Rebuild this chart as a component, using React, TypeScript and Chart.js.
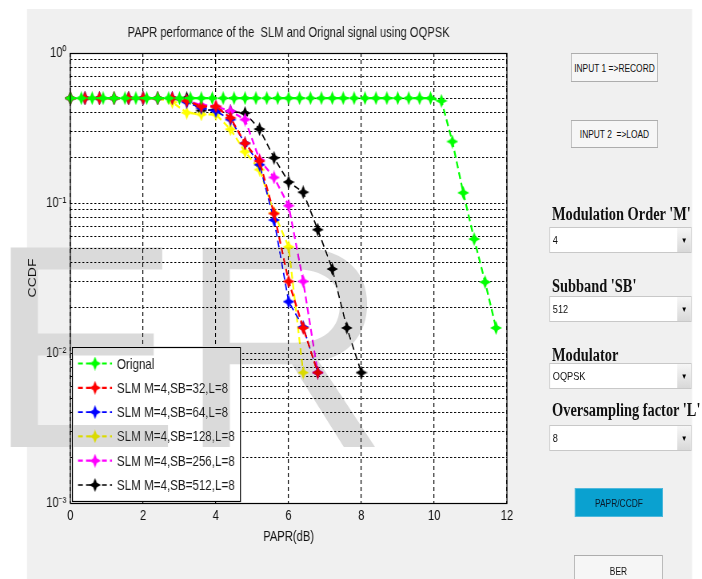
import React, { useEffect, useRef } from "react";
import { Chart, registerables } from "chart.js";

Chart.register(...registerables);

// Canvas is drawn wider and squeezed horizontally (the reference is a horizontally squeezed screenshot)
const FULL_W = 878;
const H = 579;
const S = 702 / FULL_W;
const X = (d: number) => d / S;
const FONT = '"Liberation Sans", Arial, Helvetica, sans-serif';
const SERIF = '"Liberation Serif", "Times New Roman", serif';

const TITLE = "PAPR performance of the  SLM and Orignal signal using OQPSK";
const X_TITLE = "PAPR(dB)";
const Y_TITLE = "CCDF";
const X_TICKS = [0, 2, 4, 6, 8, 10, 12];
const Y_DECADES = [0.001, 0.01, 0.1, 1];
const Y_DECADE_LABELS = ["10⁻³", "10⁻²", "10⁻¹", "10⁰"];
const Y_MINOR_STEPS = [2, 3, 4, 5, 6, 7, 8, 9];

const ORIG_X = [
  0, 0.3, 0.6, 0.9, 1.2, 1.5, 1.8, 2.1, 2.4, 2.7, 3.0, 3.3, 3.6, 3.9, 4.2, 4.5, 4.8, 5.1, 5.4, 5.7,
  6.0, 6.3, 6.6, 6.9, 7.2, 7.5, 7.8, 8.1, 8.4, 8.7, 9.0, 9.3, 9.6, 9.9, 10.2, 10.5, 10.8, 11.1, 11.4, 11.7,
];
const ORIG_CCDF = [
  0.5, 0.5, 0.5, 0.5, 0.5, 0.5, 0.5, 0.5, 0.5, 0.5, 0.5, 0.5, 0.5, 0.5, 0.5, 0.5, 0.5, 0.5, 0.5, 0.5,
  0.5, 0.5, 0.5, 0.5, 0.5, 0.5, 0.5, 0.5, 0.5, 0.5, 0.5, 0.5, 0.5, 0.5, 0.48, 0.257, 0.117, 0.0575, 0.0297, 0.0147,
];

const SLM_X = [0, 0.4, 0.8, 1.2, 1.6, 2.0, 2.4, 2.8, 3.2, 3.6, 4.0, 4.4, 4.8, 5.2, 5.6, 6.0, 6.4, 6.8, 7.2, 7.6, 8.0];
const SLM_SB32 = [0.5, 0.5, 0.5, 0.5, 0.5, 0.5, 0.5, 0.5, 0.48, 0.44, 0.44, 0.37, 0.25, 0.19, 0.085, 0.030, 0.0147, 0.0074];
const SLM_SB64 = [0.5, 0.5, 0.5, 0.5, 0.5, 0.5, 0.5, 0.5, 0.47, 0.43, 0.41, 0.36, 0.25, 0.18, 0.077, 0.022, 0.0149, 0.0074];
const SLM_SB128 = [0.5, 0.5, 0.5, 0.5, 0.5, 0.5, 0.5, 0.47, 0.40, 0.39, 0.39, 0.31, 0.22, 0.167, 0.086, 0.051, 0.0074];
const SLM_SB256 = [0.5, 0.5, 0.5, 0.5, 0.5, 0.5, 0.5, 0.5, 0.48, 0.45, 0.44, 0.41, 0.36, 0.194, 0.148, 0.096, 0.030, 0.0074];
const SLM_SB512 = [0.5, 0.5, 0.5, 0.5, 0.5, 0.5, 0.5, 0.5, 0.5, 0.414, 0.419, 0.408, 0.398, 0.311, 0.2, 0.138, 0.118, 0.0664, 0.0363, 0.0147, 0.0074];

const SERIES_LABELS = [
  "Orignal",
  "SLM M=4,SB=32,L=8",
  "SLM M=4,SB=64,L=8",
  "SLM M=4,SB=128,L=8",
  "SLM M=4,SB=256,L=8",
  "SLM M=4,SB=512,L=8",
];
const SERIES_X = [ORIG_X, SLM_X, SLM_X, SLM_X, SLM_X, SLM_X];
const SERIES_Y = [ORIG_CCDF, SLM_SB32, SLM_SB64, SLM_SB128, SLM_SB256, SLM_SB512];
const SERIES_COLORS = ["#00ff00", "#ff0000", "#0000ff", "#ffff00", "#ff00ff", "#000000"];
const SERIES_WIDTHS = [2.2, 2.2, 1.7, 2.2, 2.2, 1.6];

function starImage(color: string): HTMLCanvasElement {
  const c = document.createElement("canvas");
  c.width = 15;
  c.height = 14;
  const g = c.getContext("2d")!;
  g.fillStyle = color;
  g.beginPath();
  g.moveTo(7.5, 0);
  g.lineTo(9.8, 4.7);
  g.lineTo(15, 7);
  g.lineTo(9.8, 9.3);
  g.lineTo(7.5, 14);
  g.lineTo(5.2, 9.3);
  g.lineTo(0, 7);
  g.lineTo(5.2, 4.7);
  g.closePath();
  g.fill();
  return c;
}

const backgroundPlugin = {
  id: "bgPlugin",
  beforeDraw(chart: any) {
    const { ctx, chartArea } = chart;
    ctx.save();
    ctx.fillStyle = "#ffffff";
    ctx.fillRect(0, 0, FULL_W, H);
    ctx.fillStyle = "#f0f0f0";
    ctx.fillRect(X(27), 9, X(692) - X(27), H - 9);
    ctx.fillStyle = "#ffffff";
    ctx.fillRect(chartArea.left, chartArea.top, chartArea.right - chartArea.left, chartArea.bottom - chartArea.top);
    ctx.restore();
  },
};

const legendPlugin = {
  id: "boxLegend",
  afterDatasetsDraw(chart: any) {
    const ctx = chart.ctx;
    const left = X(72), top = 347, right = X(240), bottom = 501;
    ctx.save();
    ctx.fillStyle = "#ffffff";
    ctx.fillRect(left, top, right - left, bottom - top);
    ctx.strokeStyle = "#000";
    ctx.lineWidth = 1.2;
    ctx.strokeRect(left + 0.5, top + 0.5, right - left, bottom - top);
    chart.data.datasets.forEach((ds: any, i: number) => {
      const y = 363.5 + i * 24.3;
      ctx.strokeStyle = ds.borderColor;
      ctx.lineWidth = ds.borderWidth;
      ctx.setLineDash([6, 4]);
      ctx.beginPath();
      ctx.moveTo(X(78), y);
      ctx.lineTo(X(112), y);
      ctx.stroke();
      ctx.setLineDash([]);
      const img = ds.pointStyle as HTMLCanvasElement;
      ctx.drawImage(img, X(95) - img.width / 2, y - img.height / 2);
      ctx.fillStyle = "#1a1a1a";
      ctx.font = `14.5px ${FONT}`;
      ctx.textBaseline = "middle";
      ctx.textAlign = "left";
      ctx.fillText(ds.label, X(117), y + 1);
    });
    ctx.restore();
  },
};

const framePlugin = {
  id: "framePlugin",
  afterDraw(chart: any) {
    const { ctx, chartArea } = chart;
    ctx.save();
    ctx.strokeStyle = "#000";
    ctx.lineWidth = 1.2;
    ctx.setLineDash([]);
    ctx.strokeRect(chartArea.left, chartArea.top + 0.5, chartArea.right - chartArea.left, chartArea.bottom - chartArea.top);
    // title
    ctx.fillStyle = "#1a1a1a";
    ctx.font = `14px ${FONT}`;
    ctx.textAlign = "center";
    ctx.textBaseline = "alphabetic";
    ctx.fillText(TITLE, (chartArea.left + chartArea.right) / 2, 37);
    // watermark
    ctx.globalCompositeOperation = "darken";
    ctx.scale(1 / S, 1);
    ctx.fillStyle = "#dadada";
    ctx.font = `290px ${FONT}`;
    ctx.textAlign = "left";
    ctx.fillText("E", -13, 447);
    ctx.fillText("R", 179, 447);
    ctx.restore();
  },
};

const btnBase: React.CSSProperties = {
  position: "absolute",
  boxSizing: "border-box",
  display: "flex",
  alignItems: "center",
  justifyContent: "center",
  fontFamily: FONT,
  color: "#111",
  whiteSpace: "pre",
};

const labelBase: React.CSSProperties = {
  position: "absolute",
  left: X(552),
  fontFamily: SERIF,
  fontWeight: "bold",
  fontSize: 18,
  lineHeight: "18px",
  color: "#111",
  whiteSpace: "pre",
};

function SelectBox({ top, value }: { top: number; value: string }) {
  return (
    <div
      style={{
        position: "absolute",
        left: X(549),
        top,
        width: X(692) - X(549),
        height: 26,
        background: "#ffffff",
        border: "1px solid #c8c8c8",
        boxSizing: "border-box",
      }}
    >
      <span style={{ position: "absolute", left: X(3), top: 0, lineHeight: "24px", fontSize: 11.5, fontFamily: FONT, color: "#111" }}>{value}</span>
      <div
        style={{
          position: "absolute",
          right: 0,
          top: 0,
          bottom: 0,
          width: X(14),
          background: "linear-gradient(#f6f6f6, #d8d8d8)",
          display: "flex",
          alignItems: "center",
          justifyContent: "center",
          fontSize: 8,
          color: "#000",
        }}
      >
        ▼
      </div>
    </div>
  );
}

export default function App() {
  const ref = useRef<HTMLCanvasElement>(null);
  useEffect(() => {
    document.body.style.margin = "0";
    document.body.style.overflow = "hidden";
    const datasets = SERIES_LABELS.map((label, i) => ({
      label,
      data: SERIES_Y[i].map((y, j) => ({ x: SERIES_X[i][j], y })),
      borderColor: SERIES_COLORS[i],
      backgroundColor: SERIES_COLORS[i],
      borderWidth: SERIES_WIDTHS[i],
      borderDash: [7, 4],
      pointStyle: starImage(SERIES_COLORS[i]),
      pointRadius: 5,
      tension: 0,
      clip: false as any,
    }));
    const chart = new Chart(ref.current!, {
      type: "line",
      data: { datasets },
      options: {
        responsive: false,
        animation: false,
        devicePixelRatio: 1,
        events: [],
        layout: { padding: { left: 0, top: 53, right: 244, bottom: 0 } },
        plugins: { legend: { display: false }, title: { display: false }, tooltip: { enabled: false } },
        scales: {
          x: {
            type: "linear",
            min: 0,
            max: 12,
            afterBuildTicks: (s: any) => {
              s.ticks = X_TICKS.map((v) => ({ value: v }));
            },
            afterFit: (s: any) => {
              s.height = 76;
            },
            grid: { color: "#000", lineWidth: 1.2, drawTicks: false },
            border: { display: false, dash: [4, 3] },
            ticks: {
              font: { family: FONT, size: 14 },
              color: "#111",
              padding: 5,
              maxRotation: 0,
              autoSkip: false,
              callback: (v: any) => String(v),
            },
            title: {
              display: true,
              text: X_TITLE,
              font: { family: FONT, size: 14 },
              color: "#111",
              padding: { top: 0, bottom: 33 },
            },
          },
          y: {
            type: "logarithmic",
            min: 0.001,
            max: 1,
            afterBuildTicks: (s: any) => {
              const vals: number[] = [];
              Y_DECADES.forEach((d, i) => {
                vals.push(d);
                if (i < Y_DECADES.length - 1) Y_MINOR_STEPS.forEach((m) => vals.push(d * m));
              });
              s.ticks = vals.map((v) => ({ value: v }));
            },
            afterFit: (s: any) => {
              s.width = 88;
            },
            grid: { color: "#000", lineWidth: 1, drawTicks: false },
            border: { display: false, dash: [2.5, 2.5] },
            ticks: {
              font: { family: FONT, size: 14 },
              color: "#111",
              padding: 5,
              autoSkip: false,
              callback: (v: any) => {
                const i = Y_DECADES.findIndex((d) => Math.abs(d - Number(v)) / d < 1e-6);
                return i >= 0 ? Y_DECADE_LABELS[i] : "";
              },
            },
            title: {
              display: true,
              text: Y_TITLE,
              font: { family: FONT, size: 14 },
              color: "#111",
              padding: { top: 33, bottom: 0 },
            },
          },
        },
      },
      plugins: [backgroundPlugin, legendPlugin, framePlugin],
    } as any);
    return () => chart.destroy();
  }, []);

  return (
    <div
      style={{
        position: "absolute",
        left: 0,
        top: 0,
        width: FULL_W,
        height: H,
        transform: `scaleX(${S})`,
        transformOrigin: "0 0",
        overflow: "hidden",
      }}
    >
      <canvas ref={ref} width={FULL_W} height={H} style={{ position: "absolute", left: 0, top: 0, width: FULL_W, height: H }} />
      <div style={{ ...btnBase, left: X(571), top: 53, width: X(658) - X(571), height: 29, background: "#f6f6f6", border: "1px solid #adadad", fontSize: 10.5 }}>
        {"INPUT 1 =>RECORD"}
      </div>
      <div style={{ ...btnBase, left: X(571), top: 120, width: X(658) - X(571), height: 28, background: "#f6f6f6", border: "1px solid #adadad", fontSize: 10.5 }}>
        {"INPUT 2  =>LOAD"}
      </div>
      <div style={{ ...labelBase, top: 205 }}>{"Modulation Order 'M'"}</div>
      <SelectBox top={227} value="4" />
      <div style={{ ...labelBase, top: 277 }}>{"Subband 'SB'"}</div>
      <SelectBox top={296} value="512" />
      <div style={{ ...labelBase, top: 346 }}>{"Modulator"}</div>
      <SelectBox top={363} value="OQPSK" />
      <div style={{ ...labelBase, top: 401 }}>{"Oversampling factor 'L'"}</div>
      <SelectBox top={425} value="8" />
      <div style={{ ...btnBase, left: X(575), top: 488, width: X(663) - X(575), height: 29, background: "#0aa1d0", border: "1px solid #4fb8dc", fontSize: 10.5, color: "#0a1a2a" }}>
        {"PAPR/CCDF"}
      </div>
      <div style={{ ...btnBase, left: X(574), top: 555, width: X(663) - X(574), height: 32, background: "#f6f6f6", border: "1px solid #adadad", fontSize: 10.5 }}>
        {"BER"}
      </div>
    </div>
  );
}
